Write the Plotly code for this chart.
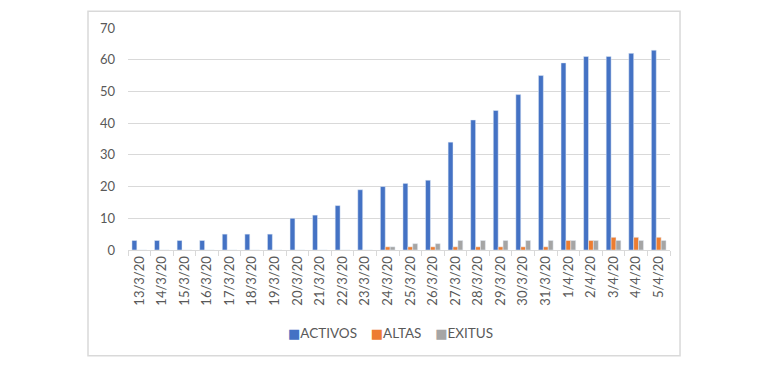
import plotly.graph_objects as go

dates = ["13/3/20", "14/3/20", "15/3/20", "16/3/20", "17/3/20", "18/3/20", "19/3/20",
         "20/3/20", "21/3/20", "22/3/20", "23/3/20", "24/3/20", "25/3/20", "26/3/20",
         "27/3/20", "28/3/20", "29/3/20", "30/3/20", "31/3/20", "1/4/20", "2/4/20",
         "3/4/20", "4/4/20", "5/4/20"]
activos = [3, 3, 3, 3, 5, 5, 5, 10, 11, 14, 19, 20, 21, 22, 34, 41, 44, 49, 55, 59, 61, 61, 62, 63]
altas = [0, 0, 0, 0, 0, 0, 0, 0, 0, 0, 0, 1, 1, 1, 1, 1, 1, 1, 1, 3, 3, 4, 4, 4]
exitus = [0, 0, 0, 0, 0, 0, 0, 0, 0, 0, 0, 1, 2, 2, 3, 3, 3, 3, 3, 3, 3, 3, 3, 3]
series_names = ["ACTIVOS", "ALTAS", "EXITUS"]
series_colors = ["#4472C4", "#ED7D31", "#A5A5A5"]

font_family = "Lato, Open Sans, sans-serif"
text_color = "#595959"

fig = go.Figure()
for name, vals, col in zip(series_names, [activos, altas, exitus], series_colors):
    fig.add_trace(go.Bar(x=dates, y=vals, name=name, marker_color=col))

# compact Excel-style legend built as text
parts = []
for name, col in zip(series_names, series_colors):
    parts.append(f"<span style='color:{col};font-size:13px;font-family:DejaVu Sans'>■</span>{name}")
legend_text = "&nbsp;&nbsp;&nbsp;&nbsp;".join(parts)

fig.update_layout(
    width=770, height=366,
    margin=dict(l=120, r=108, t=15, b=124),
    paper_bgcolor="white", plot_bgcolor="white",
    barmode="group", bargap=0.35, bargroupgap=0,
    font=dict(family=font_family, color=text_color, size=13),
    showlegend=False,
    xaxis=dict(type="category", tickangle=-90, tickfont=dict(size=13, color=text_color),
               showline=True, linecolor="#d9d9d9", linewidth=1,
               ticks="outside", tickson="boundaries", ticklen=5, tickcolor="#d9d9d9",
               showgrid=False),
    yaxis=dict(range=[0, 70], dtick=10, showgrid=True, gridcolor="#d9d9d9", gridwidth=1,
               zeroline=False, tickfont=dict(size=13, color=text_color),
               ticklabelstandoff=12),
    annotations=[dict(text=legend_text, xref="paper", yref="paper",
                      x=0.485, y=-0.374, xanchor="center", yanchor="middle",
                      showarrow=False, font=dict(size=13.5, color=text_color))],
    shapes=[dict(type="rect", xref="paper", yref="paper",
                 x0=-0.0738, x1=1.0185, y0=-0.476, y1=1.075,
                 line=dict(color="#d9d9d9", width=1.5), layer="below")],
)

fig.write_html("out.html")
